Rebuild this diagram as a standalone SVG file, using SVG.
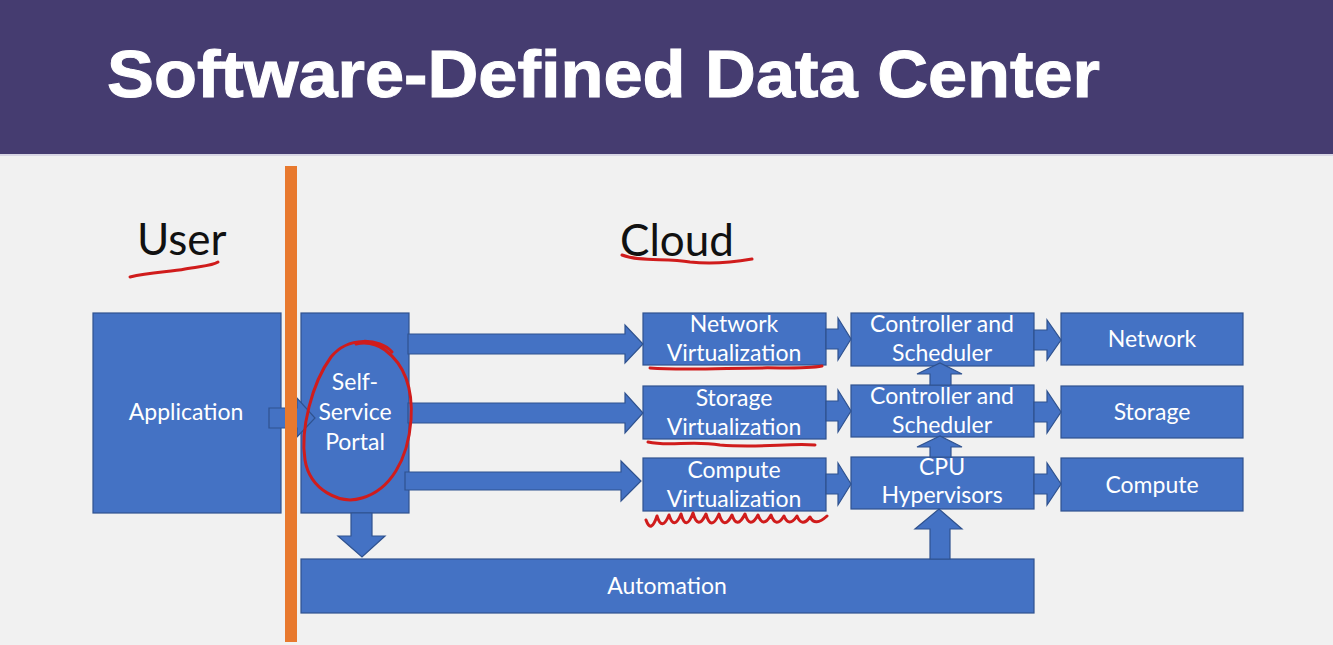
<svg xmlns="http://www.w3.org/2000/svg" width="1333" height="645" viewBox="0 0 1333 645">
  <style>
    .box { fill: #4472C4; stroke: #2F528F; stroke-width: 1.2; }
    .arrow { fill: #4472C4; stroke: #2F528F; stroke-width: 1.2; stroke-linejoin: miter; }
    .lbl { font-family: Lato, "Open Sans", "Liberation Sans", sans-serif; font-size: 23px; fill: #FFFFFF; text-anchor: middle; }
    .head { font-family: Lato, "Open Sans", "Liberation Sans", sans-serif; font-size: 44px; fill: #111111; }
    .ink { fill: none; stroke: #D01C1C; stroke-width: 3; stroke-linecap: round; stroke-linejoin: round; }
  </style>

  <!-- slide background and title band -->
  <rect x="0" y="0" width="1333" height="645" fill="#F1F1F1"/>
  <rect x="0" y="0" width="1333" height="154" fill="#453C70"/>
  <rect x="0" y="154" width="1333" height="2" fill="#D8D6E4"/>
  <text x="107" y="97" font-family="'Liberation Sans', Arial, sans-serif" font-weight="bold" font-size="66" fill="#FFFFFF" stroke="#FFFFFF" stroke-width="1" textLength="993" lengthAdjust="spacingAndGlyphs">Software-Defined Data Center</text>

  <!-- section headings -->
  <text class="head" x="137" y="255">User</text>
  <text class="head" x="620" y="256">Cloud</text>

  <!-- nodes -->
  <g id="application">
    <rect class="box" x="93" y="313" width="188" height="200"/>
    <text class="lbl" x="186" y="420">Application</text>
  </g>
  <g id="portal">
    <rect class="box" x="301" y="313" width="108" height="200"/>
    <text class="lbl" x="355" y="390">Self-</text>
    <text class="lbl" x="355" y="420">Service</text>
    <text class="lbl" x="355" y="450">Portal</text>
  </g>
  <g id="net-virt">
    <rect class="box" x="643" y="313" width="183" height="52"/>
    <text class="lbl" x="734" y="332">Network</text>
    <text class="lbl" x="734" y="361">Virtualization</text>
  </g>
  <g id="stor-virt">
    <rect class="box" x="643" y="386" width="183" height="53"/>
    <text class="lbl" x="734" y="406">Storage</text>
    <text class="lbl" x="734" y="435">Virtualization</text>
  </g>
  <g id="comp-virt">
    <rect class="box" x="643" y="458" width="183" height="53"/>
    <text class="lbl" x="734" y="478">Compute</text>
    <text class="lbl" x="734" y="507">Virtualization</text>
  </g>
  <g id="net-ctrl">
    <rect class="box" x="851" y="313" width="183" height="53"/>
    <text class="lbl" x="942" y="332">Controller and</text>
    <text class="lbl" x="942" y="361">Scheduler</text>
  </g>
  <g id="stor-ctrl">
    <rect class="box" x="851" y="385" width="183" height="52"/>
    <text class="lbl" x="942" y="404">Controller and</text>
    <text class="lbl" x="942" y="433">Scheduler</text>
  </g>
  <g id="cpu-hyp">
    <rect class="box" x="851" y="457" width="183" height="52"/>
    <text class="lbl" x="942" y="475">CPU</text>
    <text class="lbl" x="942" y="503">Hypervisors</text>
  </g>
  <g id="network">
    <rect class="box" x="1061" y="313" width="182" height="52"/>
    <text class="lbl" x="1152" y="347">Network</text>
  </g>
  <g id="storage">
    <rect class="box" x="1061" y="386" width="182" height="52"/>
    <text class="lbl" x="1152" y="420">Storage</text>
  </g>
  <g id="compute">
    <rect class="box" x="1061" y="458" width="182" height="53"/>
    <text class="lbl" x="1152" y="493">Compute</text>
  </g>
  <g id="automation">
    <rect class="box" x="301" y="559" width="733" height="54"/>
    <text class="lbl" x="667" y="594">Automation</text>
  </g>

  <!-- block-arrow connectors -->
  <g id="connectors">
    <polygon class="arrow" points="269,408 297,408 297,398 315,418 297,437 297,428 269,428"/>
    <polygon class="arrow" points="408,334 625,334 625,325 643,344 625,363 625,354 408,354"/>
    <polygon class="arrow" points="408,403 625,403 625,393 643,413 625,433 625,423 408,423"/>
    <polygon class="arrow" points="405,472 621,472 621,461 641,481 621,501 621,490 405,490"/>
    <polygon class="arrow" points="826,329 838,329 838,318 851,339 838,360 838,349 826,349"/>
    <polygon class="arrow" points="826,401 838,401 838,390 851,411 838,432 838,421 826,421"/>
    <polygon class="arrow" points="826,474 838,474 838,463 851,484 838,505 838,494 826,494"/>
    <polygon class="arrow" points="1034,330 1047,330 1047,320 1061,340 1047,360 1047,350 1034,350"/>
    <polygon class="arrow" points="1034,402 1047,402 1047,391 1061,412 1047,433 1047,422 1034,422"/>
    <polygon class="arrow" points="1034,474 1047,474 1047,463 1061,484 1047,505 1047,494 1034,494"/>
    <polygon class="arrow" points="930,385 930,374 917,374 940,363 962,374 951,374 951,385"/>
    <polygon class="arrow" points="930,457 930,447 917,447 940,436 962,447 951,447 951,457"/>
    <polygon class="arrow" points="930,559 930,529 915,529 939,509 962,529 950,529 950,559"/>
    <polygon class="arrow" points="351,513 372,513 372,536 385,536 362,557 338,536 351,536"/>
  </g>

  <!-- boundary between user side and cloud side -->
  <rect x="285" y="166" width="12" height="476" fill="#E8792E"/>

  <!-- hand-drawn annotations -->
  <g id="annotations">
    <path class="ink" d="M130,277 C150,272 170,272 185,269 C200,266 212,266 218,262"/>
    <path class="ink" d="M622,255 C640,262 665,258 690,262 C715,265 735,262 752,259"/>
    <path class="ink" d="M392,352 C380,338 348,336 331,357 C312,383 300,430 305,460 C310,490 340,505 362,498 C390,490 408,460 411,420 C413,390 405,365 385,350 C375,343 365,342 356,344"/>
    <path class="ink" d="M650,368 C690,371 740,367 780,368 C800,368 812,368 822,366"/>
    <path class="ink" d="M648,442 C670,447 690,440 720,445 C760,448 790,443 815,445"/>
    <path class="ink" d="M646,520 Q651,534 657,516 Q662,532 669,515 Q674,531 681,514 Q686,532 693,513 Q698,531 706,514 Q711,532 719,514 Q724,531 732,515 Q737,530 745,514 Q750,530 758,515 Q763,529 771,515 Q776,529 784,516 Q789,528 797,516 Q802,528 810,517 Q815,527 827,516"/>
  </g>
</svg>
